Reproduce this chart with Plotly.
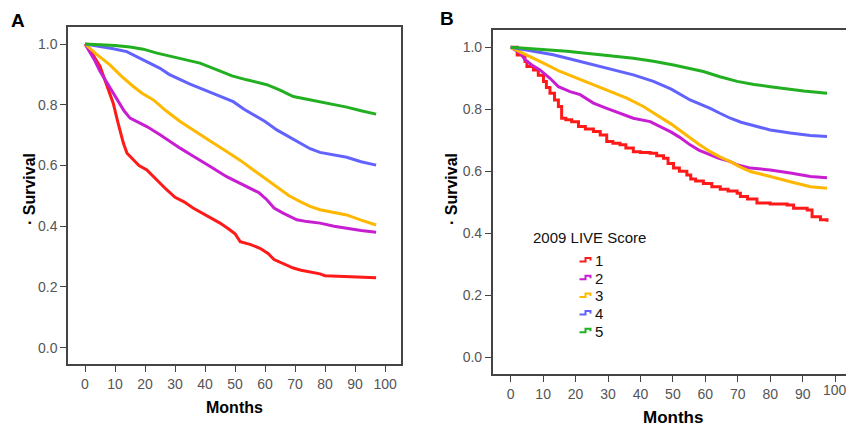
import plotly.graph_objects as go

W, H = 846, 426

# ---------------- data ----------------
score_labels = ["1", "2", "3", "4", "5"]
line_colors = ["#FF1A1A", "#C81ED2", "#FFB800", "#6262FF", "#22B022"]
x_ticks = [0, 10, 20, 30, 40, 50, 60, 70, 80, 90, 100]
y_ticks = [0.0, 0.2, 0.4, 0.6, 0.8, 1.0]

# Panel A (months, survival)
a_t1 = [0, 2, 5, 7, 9.4, 11, 12.8, 14, 16.1, 18, 20.6, 24, 27.2, 30, 33, 36, 38.3, 42, 45, 48, 50,
        51.7, 55, 58.3, 61, 63, 66, 69.4, 72, 75, 78.3, 80, 85, 89.4, 97]
a_s1 = [1.0, 0.975, 0.926, 0.87, 0.805, 0.74, 0.673, 0.64, 0.618, 0.60, 0.585, 0.55, 0.52, 0.495,
        0.48, 0.46, 0.447, 0.425, 0.41, 0.39, 0.375, 0.349, 0.34, 0.327, 0.31, 0.29, 0.278, 0.262,
        0.255, 0.25, 0.243, 0.237, 0.235, 0.231, 0.23]
a_t2 = [0, 3, 5, 8, 10.6, 13, 15, 18, 20.6, 25, 28, 31.7, 35, 38.3, 42, 47.2, 52, 56.1, 58, 60.6,
        63, 66, 70.6, 74, 78.3, 83, 87.2, 92, 97]
a_s2 = [1.0, 0.95, 0.91, 0.86, 0.816, 0.78, 0.756, 0.74, 0.728, 0.701, 0.68, 0.657, 0.637, 0.618,
        0.595, 0.563, 0.54, 0.52, 0.51, 0.487, 0.46, 0.443, 0.421, 0.415, 0.41, 0.40, 0.393, 0.386, 0.38]
a_t3 = [0, 4, 8.3, 12, 16.1, 19, 22.8, 27, 31.7, 35, 38.3, 43, 47.2, 52, 56.1, 60, 63.9, 68, 71.7,
        75, 78.3, 83, 87.2, 92, 97]
a_s3 = [1.0, 0.965, 0.931, 0.895, 0.86, 0.838, 0.816, 0.78, 0.745, 0.723, 0.701, 0.672, 0.646, 0.615,
        0.585, 0.558, 0.53, 0.50, 0.481, 0.465, 0.454, 0.445, 0.437, 0.42, 0.404]
a_t4 = [0, 5, 9, 13.9, 18, 21, 25, 28, 31.7, 35, 38.3, 43, 49.4, 53, 56.1, 60, 63.9, 68, 71.7, 75,
        78.3, 83, 87.2, 92, 97]
a_s4 = [1.0, 0.992, 0.985, 0.975, 0.955, 0.94, 0.92, 0.90, 0.882, 0.868, 0.855, 0.835, 0.81, 0.785,
        0.767, 0.745, 0.717, 0.695, 0.673, 0.655, 0.643, 0.635, 0.627, 0.612, 0.601]
a_t5 = [0, 5, 10, 15, 19.4, 24, 29.4, 34, 38.3, 44, 49, 53.9, 58, 60.6, 65, 69.4, 74, 78.3, 83,
        87.2, 92, 97]
a_s5 = [1.0, 0.998, 0.995, 0.99, 0.983, 0.97, 0.957, 0.947, 0.937, 0.915, 0.895, 0.882, 0.872, 0.866,
        0.848, 0.827, 0.818, 0.81, 0.80, 0.792, 0.78, 0.769]

# Panel B (months, survival)
b_t1 = [0, 2, 4.4, 5, 7, 8.5, 10.1, 11, 12.1, 13.5, 14.7, 15.7, 17, 18.8, 20.9, 23, 25.5, 27.6,
        29.6, 31.5, 33.7, 35.5, 37.8, 40, 43, 45, 47.1, 48.5, 50.2, 52, 54.3, 55.5, 57, 59.4, 62,
        64.6, 67, 69.8, 70.8, 73, 75.9, 80, 85.2, 87.2, 91.4, 92.9, 95.5, 97.5]
b_s1 = [1.0, 0.975, 0.954, 0.938, 0.927, 0.91, 0.89, 0.87, 0.852, 0.83, 0.809, 0.771, 0.766, 0.76,
        0.744, 0.736, 0.728, 0.717, 0.696, 0.69, 0.685, 0.675, 0.663, 0.66, 0.658, 0.65, 0.642, 0.625,
        0.61, 0.60, 0.588, 0.575, 0.568, 0.56, 0.55, 0.542, 0.536, 0.529, 0.518, 0.51, 0.497, 0.494,
        0.491, 0.48, 0.475, 0.453, 0.443, 0.437]
b_t2 = [0, 2.9, 4.4, 6.5, 9, 12.1, 14.7, 18.3, 21.4, 25.5, 29.6, 33.7, 37.8, 43, 46.1, 49.5, 52,
        55.3, 58, 61.5, 64, 67.7, 70, 73.9, 80, 86.2, 92.4, 97.5]
b_s2 = [1.0, 0.981, 0.96, 0.943, 0.927, 0.90, 0.873, 0.857, 0.847, 0.82, 0.803, 0.787, 0.771, 0.76,
        0.744, 0.726, 0.71, 0.685, 0.668, 0.653, 0.642, 0.631, 0.62, 0.61, 0.604, 0.594, 0.583, 0.579]
b_t3 = [0, 4.9, 10.1, 15.2, 20.4, 25.5, 30.6, 35.8, 40.9, 46.1, 49.5, 52, 55.3, 58, 61.5, 64.5,
        67.7, 70.5, 73.9, 77, 80, 86.2, 92.4, 97.5]
b_s3 = [1.0, 0.976, 0.949, 0.922, 0.90, 0.879, 0.857, 0.836, 0.809, 0.776, 0.752, 0.733, 0.707,
        0.687, 0.663, 0.646, 0.631, 0.615, 0.599, 0.59, 0.583, 0.566, 0.55, 0.545]
b_t4 = [0, 7, 13.1, 19.3, 25.5, 31.7, 37.8, 44, 49.5, 55.3, 61.5, 64.5, 67.7, 71, 73.9, 77, 80,
        86.2, 92.4, 97.5]
b_s4 = [1.0, 0.987, 0.976, 0.96, 0.943, 0.927, 0.911, 0.89, 0.865, 0.83, 0.803, 0.787, 0.771, 0.758,
        0.75, 0.74, 0.733, 0.723, 0.715, 0.712]
b_t5 = [0, 7, 17.3, 27.6, 37.8, 44, 50.2, 59.4, 64.5, 69.8, 75, 80, 85, 90.3, 97.5]
b_s5 = [1.0, 0.995, 0.987, 0.976, 0.965, 0.955, 0.943, 0.922, 0.905, 0.89, 0.88, 0.873, 0.866,
        0.859, 0.852]

panel_a = [(a_t1, a_s1), (a_t2, a_s2), (a_t3, a_s3), (a_t4, a_s4), (a_t5, a_s5)]
panel_b = [(b_t1, b_s1), (b_t2, b_s2), (b_t3, b_s3), (b_t4, b_s4), (b_t5, b_s5)]

# ---------------- figure ----------------
def px(x):
    return x / W

def py(y):
    return 1 - y / H

FONT = "Liberation Sans, Arial, sans-serif"
AXC = "#444444"
TICKC = "#555555"

fig = go.Figure()
for i, (t, s) in enumerate(panel_a):
    fig.add_trace(go.Scatter(x=t, y=s, mode="lines", name=score_labels[i], showlegend=False,
                             line=dict(color=line_colors[i], width=3), xaxis="x", yaxis="y"))
for i, (t, s) in enumerate(panel_b):
    fig.add_trace(go.Scatter(x=t, y=s, mode="lines", name=score_labels[i], showlegend=False,
                             line=dict(color=line_colors[i], width=3, shape="hv" if i == 0 else "linear"),
                             xaxis="x2", yaxis="y2"))

common = dict(showgrid=False, zeroline=False, showline=True, linecolor=AXC, linewidth=1.5,
              ticks="outside", ticklen=6, tickwidth=1, tickcolor=AXC,
              tickfont=dict(family=FONT, size=14, color=TICKC))

fig.update_layout(
    width=W, height=H, autosize=False,
    margin=dict(l=0, r=0, t=0, b=0),
    paper_bgcolor="white", plot_bgcolor="white",
    font=dict(family=FONT),
    xaxis=dict(domain=[px(68), px(401)], range=[-5.67, 105.3], tickvals=x_ticks,
               anchor="y", mirror=True, **common),
    yaxis=dict(domain=[py(364), py(27)], range=[-0.054, 1.056], tickvals=y_ticks,
               tickformat=".1f", anchor="x", mirror=True, **common),
    xaxis2=dict(domain=[px(492.7), 1.0], range=[-5.55, 103.36], tickvals=x_ticks,
                anchor="y2", mirror=True, **common),
    yaxis2=dict(domain=[py(374), py(30)], range=[-0.0549, 1.0559], tickvals=y_ticks,
                tickformat=".1f", anchor="x2", mirror=False, **common),
)

ann = []
def add_text(text, x, y, size, angle=0, xanchor="center", color="black"):
    ann.append(dict(text=text, x=px(x), y=py(y), xref="paper", yref="paper",
                    xanchor=xanchor, yanchor="middle", showarrow=False, textangle=angle,
                    font=dict(family=FONT, size=size, color=color)))

add_text("<b>A</b>", 18, 20, 19)
add_text("<b>B</b>", 446.5, 18.5, 19)
add_text("<b>Months</b>", 234.5, 407, 16)
add_text("<b>Months</b>", 673, 417, 17)
add_text("<b>· Survival</b>", 29, 189, 16, angle=-90)
add_text("<b>· Survival</b>", 451, 189, 16, angle=-90)

# last tick label of panel B, cut by the page edge as in the reference
ann.append(dict(text=str(x_ticks[-1]), x=x_ticks[-1], xref="x2", y=py(390), yref="paper",
                xanchor="center", yanchor="middle", showarrow=False,
                font=dict(family=FONT, size=14, color=TICKC)))

# legend (panel B)
add_text("2009 LIVE Score", 531, 237, 15, xanchor="left", color="#111111")
shapes = []
item_y0 = 260.5
item_dy = 17.7
for i, lab in enumerate(score_labels):
    yc = item_y0 + i * item_dy
    add_text(lab, 593, yc, 15, xanchor="left", color="#111111")
    path = "M{:.5f},{:.5f} L{:.5f},{:.5f} L{:.5f},{:.5f} L{:.5f},{:.5f} L{:.5f},{:.5f}".format(
        px(579.5), py(yc + 1), px(585.5), py(yc + 1), px(585.5), py(yc - 2.5),
        px(590.5), py(yc - 2.5), px(590.5), py(yc))
    shapes.append(dict(type="path", path=path, xref="paper", yref="paper",
                       line=dict(color=line_colors[i], width=2)))

fig.update_layout(annotations=ann, shapes=shapes)

fig.write_html("out.html", config={"displayModeBar": False},
               post_script="document.body.style.margin='0';document.body.style.overflow='hidden';")
